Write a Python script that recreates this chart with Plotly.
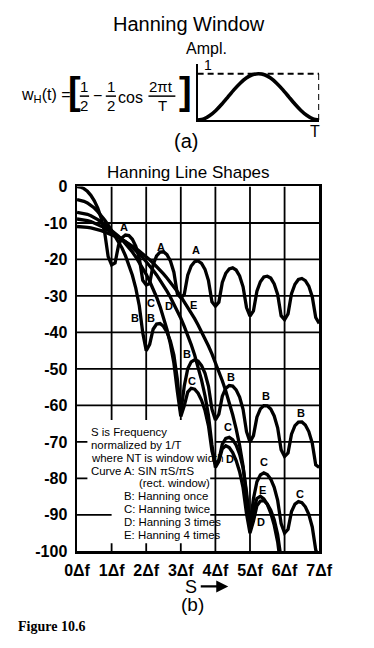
import plotly.graph_objects as go

W, H = 374, 648
def px(x):
    return x / W
def py(y):
    return 1 - y / H

FONT = "Liberation Sans, Arial, sans-serif"

# ---------------- data ----------------
S = [0.0, 0.1, 0.2, 0.3, 0.4, 0.5, 0.6, 0.7, 0.8, 0.9,
     1.0, 1.1, 1.2, 1.3, 1.4, 1.5, 1.6, 1.7, 1.8, 1.9,
     2.0, 2.1, 2.2, 2.3, 2.4, 2.5, 2.6, 2.7, 2.8, 2.9,
     3.0, 3.1, 3.2, 3.3, 3.4, 3.5, 3.6, 3.7, 3.8, 3.9,
     4.0, 4.1, 4.2, 4.3, 4.4, 4.5, 4.6, 4.7, 4.8, 4.9,
     5.0, 5.1, 5.2, 5.3, 5.4, 5.5, 5.6, 5.7, 5.8, 5.9,
     6.0, 6.1, 6.2, 6.3, 6.4, 6.5, 6.6, 6.7, 6.8, 6.9, 7.0]

curve_A = [0.0, -0.14, -0.58, -1.32, -2.42, -3.92, -5.94, -8.68, -12.62, -19.22,
           -21.5, -20.97, -16.14, -14.06, -13.30, -13.46, -14.46, -16.39, -19.67, -25.72,
           -27.0, -26.58, -21.41, -19.01, -17.98, -17.90, -18.68, -20.41, -23.50, -29.39,
           -30.5, -29.6, -24.3, -21.8, -20.6, -20.4, -21.1, -22.7, -25.8, -31.6,
           -32.8, -31.7, -26.3, -23.8, -22.6, -22.3, -22.9, -24.5, -27.5, -33.2,
           -35.5, -34.1, -28.7, -26.1, -24.8, -24.6, -25.1, -26.7, -29.6, -35.4,
           -36.5, -34.9, -29.4, -26.8, -25.5, -25.2, -25.8, -27.3, -30.2, -35.9, -37.5]

curve_B = [-3.6, -3.8, -4.05, -4.5, -5.1, -5.9, -6.9, -7.95, -9.2, -10.5,
           -12.04, -13.43, -15.03, -16.86, -18.97, -21.42, -24.34, -27.94, -32.69, -40.07,
           -45.0, -43.26, -39.12, -37.68, -37.55, -38.32, -39.91, -42.40, -46.22, -52.81,
           -62.0, -54.69, -49.99, -48.07, -47.50, -47.86, -49.09, -51.23, -54.75, -61.03,
           -64.0, -62.40, -57.46, -55.33, -54.55, -54.71, -55.75, -57.72, -61.06, -67.20,
           -70.0, -68.27, -63.21, -60.95, -60.04, -60.09, -61.01, -62.88, -66.13, -72.16,
           -74.0, -73.05, -67.90, -65.54, -64.55, -64.53, -65.37, -67.17, -70.34, -76.31, -77.0]

curve_C = [-7.1, -7.2, -7.36, -7.62, -8.03, -8.48, -9.06, -9.72, -10.46, -11.21,
           -12.04, -12.80, -13.65, -14.59, -15.62, -16.74, -17.97, -19.31, -20.77, -22.35,
           -24.08, -25.98, -28.07, -30.35, -32.92, -35.82, -39.19, -43.20, -48.37, -56.16,
           -63.0, -60.13, -56.35, -55.29, -55.53, -56.65, -58.60, -61.42, -65.58, -72.48,
           -76.0, -75.01, -70.62, -69.01, -68.74, -69.39, -70.90, -73.33, -77.11, -83.69,
           -93.0, -85.58, -80.92, -79.05, -78.51, -78.93, -80.21, -82.43, -86.03, -92.39,
           -95.0, -93.94, -89.10, -87.05, -86.36, -86.64, -87.78, -89.86, -93.31, -99.56, -102.0]

curve_D = [-8.9, -8.98, -9.11, -9.32, -9.61, -9.97, -10.39, -10.87, -11.40, -11.98,
           -12.60, -13.13, -13.72, -14.37, -15.07, -15.83, -16.65, -17.53, -18.48, -19.48,
           -20.56, -21.72, -22.95, -24.24, -25.63, -27.11, -28.69, -30.36, -32.16, -34.08,
           -36.12, -38.34, -40.72, -43.32, -46.19, -49.39, -53.05, -57.34, -62.79, -70.84,
           -77.0, -75.36, -71.85, -71.06, -71.55, -72.91, -75.10, -78.17, -82.56, -89.72,
           -95.0, -91.7, -87.5, -86.2, -86.1, -87.0, -88.7, -91.35, -95.36, -102.1]

curve_E = [-10.96, -11.0, -11.07, -11.18, -11.36, -11.55, -11.8, -12.1, -12.45, -12.8,
           -13.20, -13.61, -14.06, -14.56, -15.10, -15.68, -16.30, -16.96, -17.68, -18.42,
           -19.22, -20.08, -20.98, -21.92, -22.92, -23.97, -25.08, -26.24, -27.47, -28.76,
           -30.10, -31.53, -33.01, -34.57, -36.22, -37.95, -39.79, -41.69, -43.73, -45.87,
           -48.16, -50.61, -53.23, -56.06, -59.16, -62.56, -66.43, -70.94, -76.59, -84.87,
           -93.0, -88.8, -85.5, -84.9, -85.6, -87.1, -89.5, -92.8, -97.4, -104.7]

# Hanning window shape, panel (a)
t_win = [0.0, 0.05, 0.1, 0.15, 0.2, 0.25, 0.3, 0.35, 0.4, 0.45, 0.5,
         0.55, 0.6, 0.65, 0.7, 0.75, 0.8, 0.85, 0.9, 0.95, 1.0]
w_win = [0.0, 0.024, 0.095, 0.206, 0.345, 0.5, 0.655, 0.794, 0.905, 0.976, 1.0,
         0.976, 0.905, 0.794, 0.655, 0.5, 0.345, 0.206, 0.095, 0.024, 0.0]

x_tick_vals = [0, 1, 2, 3, 4, 5, 6, 7]
x_tick_text = ["0\u0394f", "1\u0394f", "2\u0394f", "3\u0394f", "4\u0394f", "5\u0394f", "6\u0394f", "7\u0394f"]
y_tick_vals = [0, -10, -20, -30, -40, -50, -60, -70, -80, -90, -100]
y_tick_text = ["0", "-10", "-20", "-30", "-40", "-50", "-60", "-70", "-80", "-90", "-100"]

curve_labels = [
    ("A", 1.37, -11.1), ("A", 2.43, -16.5), ("A", 3.45, -17.3),
    ("B", 1.67, -36.0), ("B", 2.15, -36.0), ("B", 3.19, -45.8), ("B", 4.45, -52.3),
    ("B", 5.46, -57.3), ("B", 6.48, -62.2),
    ("C", 2.15, -32.0), ("C", 3.31, -53.2), ("C", 4.37, -65.8), ("C", 5.40, -75.4),
    ("C", 6.44, -84.3),
    ("D", 2.65, -32.7), ("D", 4.41, -74.7), ("D", 5.33, -92.0),
    ("E", 3.37, -32.5), ("E", 5.36, -83.1),
]

legend_lines = [
    ("S is Frequency", 82, 435),
    ("normalized by 1/T", 82, 448.3),
    ("where NT is window width", 82, 461.7),
    ("Curve A: SIN \u03c0S/\u03c0S", 82, 475),
    ("(rect. window)", 134, 488.3),
    ("B: Hanning once", 117, 501),
    ("C: Hanning twice", 117, 514.3),
    ("D: Hanning 3 times", 117, 528.3),
    ("E: Hanning 4 times", 117, 541.7),
]

# ---------------- figure ----------------
fig = go.Figure()

line_style = dict(color="black", width=3.3, shape="linear")
for ys in (curve_A, curve_B, curve_C, curve_D, curve_E):
    fig.add_trace(go.Scatter(x=S[:len(ys)], y=ys, mode="lines", line=line_style,
                             hoverinfo="skip", showlegend=False, xaxis="x", yaxis="y"))

fig.add_trace(go.Scatter(x=t_win, y=w_win, mode="lines",
                         line=dict(color="black", width=3.6, shape="spline", smoothing=0.6),
                         hoverinfo="skip", showlegend=False, xaxis="x2", yaxis="y2",
                         cliponaxis=False))

shapes = []
grid = dict(color="black", width=1.8)
for xv in (4, 5, 6):
    shapes.append(dict(type="line", xref="x", yref="y", x0=xv, x1=xv, y0=0, y1=-100,
                       line=grid, layer="below"))
for xv in (1, 2, 3):
    shapes.append(dict(type="line", xref="x", yref="y", x0=xv, x1=xv, y0=0, y1=-64,
                       line=grid, layer="below"))
    shapes.append(dict(type="line", xref="x", yref="y", x0=xv, x1=xv, y0=-97.8, y1=-100,
                       line=grid, layer="below"))
for yv in (-10, -20, -30, -40, -50, -60):
    shapes.append(dict(type="line", xref="x", yref="y", x0=0, x1=7, y0=yv, y1=yv,
                       line=grid, layer="below"))
for yv, segs in ((-70, [(0, 0.3), (4, 7)]), (-80, [(0, 0.3), (3.85, 7)]),
                 (-90, [(0, 1.0), (3.85, 7)])):
    for a, b in segs:
        shapes.append(dict(type="line", xref="x", yref="y", x0=a, x1=b, y0=yv, y1=yv,
                           line=grid, layer="below"))

dash = dict(color="black", width=2, dash="6px,4px")
shapes.append(dict(type="line", xref="x2", yref="y2", x0=0, x1=1, y0=1, y1=1, line=dash))
shapes.append(dict(type="line", xref="x2", yref="y2", x0=1, x1=1, y0=0, y1=1, line=dash))

for x0, x1 in ((72, 82), (100, 111), (146, 175)):
    shapes.append(dict(type="line", xref="paper", yref="paper", x0=px(x0), x1=px(x1),
                       y0=py(90.5), y1=py(90.5), line=dict(color="black", width=1.5)))

annotations = []
def txt(text, x, y, size, xanchor="center", family=FONT, yanchor="middle"):
    annotations.append(dict(text=text, x=px(x), y=py(y), xref="paper", yref="paper",
                            xanchor=xanchor, yanchor=yanchor, showarrow=False,
                            font=dict(family=family, size=size, color="black")))

txt("Hanning Window", 190, 16, 20)
txt("Ampl.", 209, 42, 16)
txt("1", 210, 59, 14)
txt("T", 325, 127, 16)
txt("(a)", 186, 137, 20)
txt("w<sub>H</sub>(t) =", 6, 90, 16, xanchor="left")
txt("<b>[</b>", 66, 85, 38)
txt("1", 77, 81, 15)
txt("2", 77, 100, 15)
txt("\u2212", 91, 90, 16)
txt("1", 105.5, 81, 15)
txt("2", 105.5, 100, 15)
txt("cos", 127, 92, 16)
txt("2\u03c0t", 160, 81, 15)
txt("T", 161, 100, 15)
txt("<b>]</b>", 186, 85, 38)
txt("Hanning Line Shapes", 189, 169, 17)
txt("S", 192, 595, 18)
txt("(b)", 194, 613, 19)
txt("<b>Figure 10.6</b>", 3, 635, 14, xanchor="left",
    family="Liberation Serif, Times New Roman, serif")

for text, x, y in legend_lines:
    txt(text, x, y, 11.4, xanchor="left")

for lab, sx, dy in curve_labels:
    annotations.append(dict(text="<b>" + lab + "</b>", x=sx, y=dy, xref="x", yref="y",
                            showarrow=False, font=dict(family=FONT, size=11, color="black")))

annotations.append(dict(text="", x=px(232), y=py(594), xref="paper", yref="paper",
                        ax=-29, ay=0, axref="pixel", ayref="pixel",
                        showarrow=True, arrowhead=2, arrowsize=1, arrowwidth=2.4,
                        arrowcolor="black"))

fig.update_layout(
    width=W, height=H, autosize=False,
    margin=dict(l=0, r=0, t=0, b=0),
    paper_bgcolor="white", plot_bgcolor="white",
    showlegend=False,
    font=dict(family=FONT, color="black"),
    shapes=shapes, annotations=annotations,
    xaxis=dict(domain=[px(69), px(330)], range=[0, 7], showgrid=False, zeroline=False,
               showline=True, mirror=True, linecolor="black", linewidth=2.5,
               tickmode="array", tickvals=x_tick_vals, ticktext=x_tick_text,
               ticks="", tickfont=dict(family="Liberation Sans, Arial Black, sans-serif",
                                       size=16, color="black", weight="bold"),
               ticklabelstandoff=3, anchor="y", fixedrange=True),
    yaxis=dict(domain=[py(558), py(183.3)], range=[-100, 0], showgrid=False, zeroline=False,
               showline=True, mirror=True, linecolor="black", linewidth=2.5,
               tickmode="array", tickvals=y_tick_vals, ticktext=y_tick_text,
               ticks="", tickfont=dict(family="Liberation Sans, Arial Black, sans-serif",
                                       size=16, color="black", weight="bold"),
               ticklabelstandoff=4, anchor="x", fixedrange=True),
    xaxis2=dict(domain=[px(199), px(330)], range=[0, 1], showgrid=False, zeroline=False,
                showline=True, linecolor="black", linewidth=2, showticklabels=False,
                ticks="", anchor="y2", fixedrange=True),
    yaxis2=dict(domain=[py(115), py(57)], range=[0, 1.22], showgrid=False, zeroline=False,
                showline=True, linecolor="black", linewidth=2, showticklabels=False,
                ticks="", anchor="x2", fixedrange=True),
)

fig.write_html("out.html", config={"displayModeBar": False, "staticPlot": True},
               post_script="document.body.style.margin='0';document.body.style.overflow='hidden';")
